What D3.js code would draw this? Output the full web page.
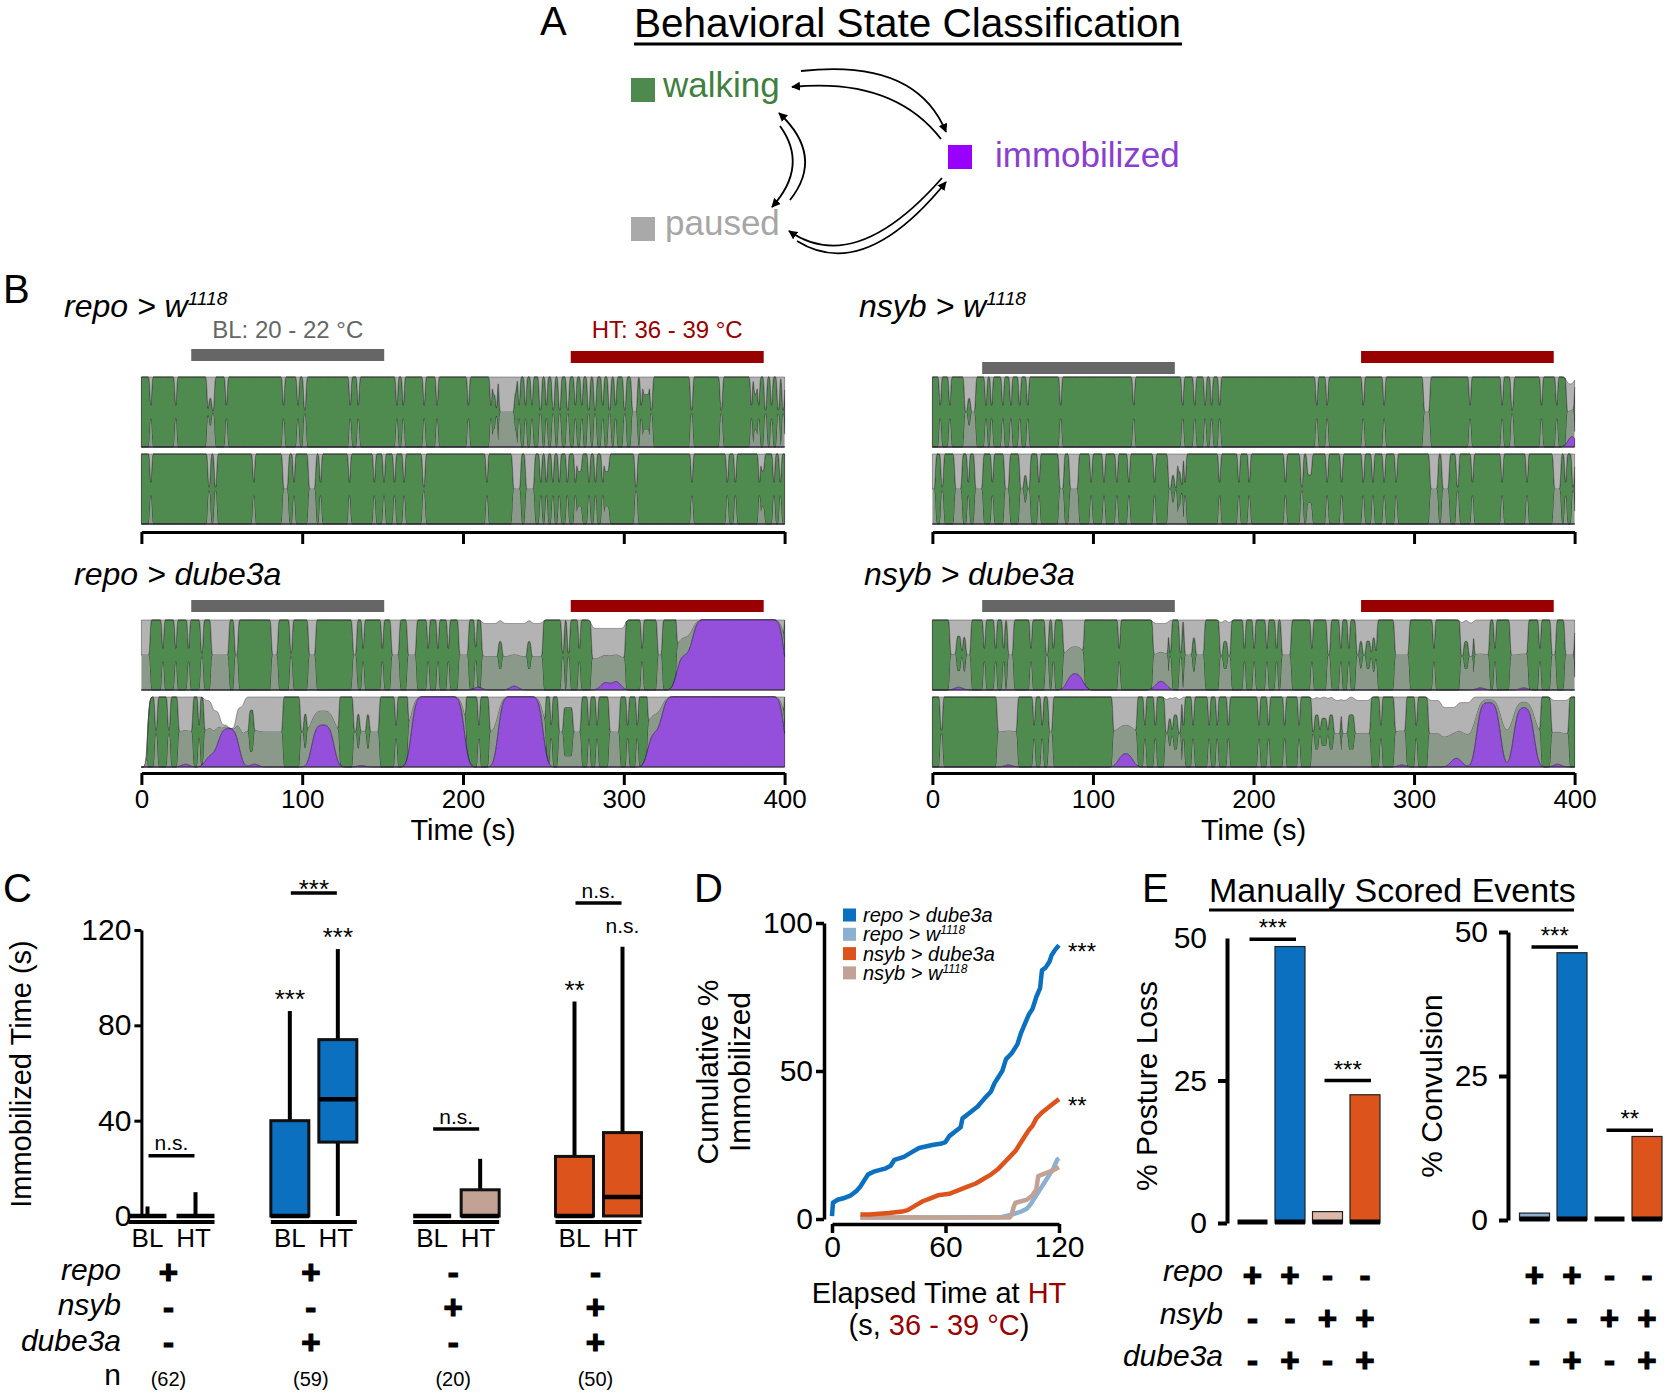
<!DOCTYPE html>
<html><head><meta charset="utf-8">
<script src="https://cdn.jsdelivr.net/npm/d3@7"></script>
<style>body{margin:0;background:#fff} svg{display:block} text{font-family:"Liberation Sans",Arial,Helvetica,sans-serif}</style>
</head><body>
<svg id="fig" width="1667" height="1393"></svg>
<script>
// ===================== DATA =====================
// Panel A
const stateNames = ["walking", "immobilized", "paused"];
const transitions = [["walking","immobilized"],["immobilized","walking"],["walking","paused"],["paused","walking"],["paused","immobilized"],["immobilized","paused"]];

// Panel B: time axis and temperature windows (s)
const timeTicks = [0, 100, 200, 300, 400];
const windowBL = {label: "BL: 20 - 22 °C", start: 31, end: 151};
const windowHT = {label: "HT: 36 - 39 °C", start: 267, end: 387};
const genotypes = ["repo > w|1118", "repo > dube3a", "nsyb > w|1118", "nsyb > dube3a"];

// ethogram events: <start s><state><duration s>[@percent]; default state = walking
// P = paused (@ = filled fraction), W = partial walking (@ = walking fraction), I = immobilized (@ = fraction)
const repoW_states1 = "5.5P1 21P1 41P1 42W2@40 44P1.5 52.5P1 88P1 97P1 101P1.5 129.5P1 134.5P1 158.5P1 162.5P1 175.5P1 183.5P1 203P1 217P1 218.5W2@50 220.5P1 222.5P9.5 232W1.5@55 234.5P1 238.5P1 242.5P1 247.5P1.5 251.5P1 255.5P1.5 259.5P1.5 264.5P1.5 269.5P1 273.5P1 277.5P1.5 281.5P1.5 286.5P1 290.5P1.5 294.5P1 300P1.5 305P3.5 310.5P1 312W4@50 316.5P1.5 341.5P1.5 360P1.5 379P1 381W2@50 383.5P1 387.5P1.5 391.5P1 395.5P1.5 398.5P1.5";
const repoW_immob1 = "";
const repoW_states2 = "5.5P1 41.5P1.5 45.5P1.5 69.5P1 88P3.5 94.5P1 104P4.5 111P1 129P1 144.5P1 150.5P1 157P1 163P1 175P1.5 214.5P1 231P5 239P5.5 248P1 251.5P1 255.5P1 259.5P1 264.5P1 269.5P1 271W3@50 278P1 282P1 286.5P1 288W3@50 307P1.5 342P1 364P1 369P1 384P1 385.5W2@50 393P1 397P1";
const repoW_immob2 = "";
const repoD_states1 = "0P5.4 13P1 21P1 29P1 37P1.5 43.5P11 58P2.3 81P4 92.5P1.5 104P4.5 131.5P2.5 137.5P1 149.5P1 155.5P5 165.5P5.5 178P1 184P1 190.5P1 197.5P6 207.5P1 211.7P38@95 222W2.5@40 240W2.5@40 261.5P1.5 265P1.5 272P1 280P21@88 311P1 321P3 333P67";
const repoD_immob1 = "208I3@8 230I4@9 286I5@14 293I5@16 333I10@50 343I57@100";
const repoD_states2 = "0P4@0 8.5P1.5 16.5P1.5 23P9 35.5P1 39P5@95 44P5@80 49P5@60 54P5@55 59P5@85 64P3 67W3@60 70P18 99P2 101W2@50 103P20 132P2 134W2@50 136P4 140W2@50 142P6 158P1 166P36 209.5P1 216.5P35 254.5P1 259.5P3 262.5W6@70 268.5P5 278P1 283P1 291P6.5 302P1 308P1 315P85";
const repoD_immob2 = "26I3@8 40I8@18 48I13@55 69I3@8 106I14@60 136I2@6 168I33@100 222I28@100 315I9@50 324I76@100";
const nsybW_states1 = "4.5P1 10.5P1 20P2 22W2@40 24P3 33P1 36.5P1 43.5P1 48.5P1 54P1 59P1 79.5P1 125P1 155.5P1 163P1 169.5P1 173.5P1 178.5P1 239P1 245.5P1 268P1 281P1 306P4 334.5P1 354.5P1 360.5P1.5 379P1 388.5P1 395P5@90";
const nsybW_immob1 = "397I3@30";
const nsybW_states2 = "0P2 5.5P1.5 14P4.5 22P1 26.5P5 37P1 45P3 54.5P2.5 57W2@40 59P2 66P1 79P3 85.5P5.5 98.5P1 106.5P1 114.5P1 122P1 138P1 147P2 149W2@40 151P1.5 153W2@50 155P1 157P1 178.5P1 190.5P1 197P1 219.5P1 229.5P1.5 233.5W3@40 245.5P1 254.5P1 268P1 274P1 281P1 288.5P1 310P5 317.5P4.5 326.5P1.5 336P1 354.5P1 370P1 387P4.5 394P1 398.5P1.5";
const nsybW_immob2 = "";
const nsybD_states1 = "11P13 15W3@50 19W2@50 32P1 39P1 44P1 47P3.5 61P1 70.5P2 75P1 81.5P13 116P1 137.5P9.5@95 147.5P1.5 154P1.5 157P11 162W2@50 168P1.5 179P7@95 181W3@40 194P1 200P1 208P1 214P1 217.5P6 236P1 246P2 254P1 259P1 264P13 266W2@40 270W3@40 274W2@50 288P9 312P1 329P8@95 331W3@40 337.5P9.5 350P1 360P11 378P1 385.6P3 394P6";
const nsybD_immob1 = "15I3@8 84I10@24 139I7@14 340I3@6 367I3@6";
const nsybD_states2 = "5P1.5 40.5P12.5 63P1 68P1 72.5P2.5 112.5P15 132P1 138.5P1 145P10@95 147W2@40 150W3@50 156P1 162P1 172P1 177P1 184P1 203P1 209P1 219P1 228P1 236.5P18@95 238W3@50 242W4@40 247W3@50 255P18@95 259W4@50 279P1 288P7 301P1 309P8@95 317P10@85 327P9@92 336P43 385.6P11@95";
const nsybD_immob2 = "46I3@6 116I9@20 291I3@6 323I7@14 339I15@92 362I13@85 388I3@8";

// Panel C: immobilized time (s) box plots, [min, q1, median, q3, max]
const boxGroups = ["repo>w1118", "repo>dube3a", "nsyb>w1118", "nsyb>dube3a"];
const boxBL = [[0,0,0,0,4],[0,0,0,40,86],[0,0,0,0,0],[0,0,0,25,90]];
const boxHT = [[0,0,0,0,10],[0,31,49,74,112],[0,0,0,11,24],[0,0,8,35,113]];
const yTicksC = [0, 40, 80, 120];
const sigGroupLabel = ["n.s.", "***", "n.s.", "n.s."];
const sigGroupLevel = [25.3, 135.5, 36.5, 131.3];
const sigBL = ["", "***", "", "**"];
const sigHT = ["", "***", "", "n.s."];
const nFlies = ["(62)", "(59)", "(20)", "(50)"];
const genoRows = ["repo", "nsyb", "dube3a"];
const genoSigns = {repo: ["+","+","-","-"], nsyb: ["-","-","+","+"], dube3a: ["-","+","-","+"]};

// Panel D: cumulative % immobilized vs elapsed time at HT (s)
const cumRepoDube = [[0,1],[0.5,5.5],[3,6.5],[6,7],[10,8],[13,9.5],[15,11],[17,13],[19,15],[22,16],[28,17],[31,18],[33,20],[38,21],[42,22.5],[46,24],[53,25],[58,25.5],[60,26],[62,28],[66,30],[68,31],[69,34],[73,36],[77,38],[81,41],[84,43],[86,46],[88,48],[90,50],[92,54],[95,56],[98,59],[100,63],[102,66],[104,69],[106,71],[108,75],[110,78],[111,84],[113,85],[115,87],[116,89],[118,91],[120,92.5]];
const cumRepoW = [[15,0.5],[60,0.5],[90,0.7],[95,1.5],[100,2.5],[103,3.5],[105,5],[107,7],[109,9],[111,11],[113,13],[115,15],[117,17],[119,20],[120,20.5]];
const cumNsybDube = [[15,1.5],[20,1.5],[30,2],[37,2.5],[40,3],[44,4.5],[48,6],[52,7],[56,8],[62,8.5],[66,9.5],[72,11],[76,12],[80,13.5],[84,15],[88,17],[91,19],[94,21],[97,23],[99,25],[101,27],[104,30],[106,31.5],[108,34],[111,36],[114,37.5],[117,39],[120,40.5]];
const cumNsybW = [[15,0.5],[94,0.5],[95,1.5],[96,4],[97,5.5],[103,6.5],[106,8],[108,10],[109,14.5],[113,15.5],[117,16.5],[120,17.5]];
const cumStars = {"repo > dube3a": "***", "nsyb > dube3a": "**"};
const xTicksD = [0, 60, 120];
const yTicksD = [0, 50, 100];

// Panel E: manually scored events (%)
const eGenos = ["repo>w1118", "repo>dube3a", "nsyb>w1118", "nsyb>dube3a"];
const postureLoss = [0, 48.5, 2, 22.5];
const convulsion = [1.2, 46.4, 0, 14.5];
const postureSig = [[0,1,"***",49.8],[2,3,"***",25]];
const convSig = [[0,1,"***",47.4],[2,3,"**",15.6]];
const yTicksE = [0, 25, 50];

// ===================== STYLE / LAYOUT =====================
const F = "'Liberation Sans', Arial, Helvetica, sans-serif";
const C_GREEN = "#4f8a4f", C_LGRAY = "#b3b3b3", C_DGRAY = "#8a998a", C_PURPLE = "#9450da";
const genoColor = {"repo>w1118":"#8db0d0","repo>dube3a":"#0a70bf","nsyb>w1118":"#c2a295","nsyb>dube3a":"#dc531b"};
const svg = d3.select("#fig");

function styleAxis(g, sw, fs) {
  g.select(".domain").attr("stroke", "#000").attr("stroke-width", sw);
  g.selectAll(".tick line").attr("stroke", "#000").attr("stroke-width", sw);
  g.selectAll(".tick text").attr("font-size", fs).attr("font-family", F).attr("fill", "#000");
}
function txt(x, y, s, size, opt) {
  opt = opt || {};
  const t = svg.append("text").attr("x", x).attr("y", y).attr("font-size", size)
    .attr("text-anchor", opt.anchor || "start").attr("fill", opt.fill || "#000").text(s);
  if (opt.italic) t.attr("font-style", "italic");
  if (opt.weight) t.attr("font-weight", opt.weight);
  return t;
}
function sign(x, y, s) {
  return txt(x, y, s, 33, {anchor: "middle", weight: "bold"}).attr("stroke", "#000").attr("stroke-width", 1.2);
}
function geneLabel(parent, x, y, label, size, anchor) {
  const parts = label.split("|");
  const t = parent.append("text").attr("x", x).attr("y", y).attr("font-size", size)
    .attr("font-style", "italic").attr("text-anchor", anchor || "start");
  t.append("tspan").text(parts[0]);
  if (parts[1]) t.append("tspan").attr("font-size", size * 0.6).attr("dy", -size * 0.36).text(parts[1]);
  return t;
}

// ===================== PANEL A =====================
txt(540, 35, "A", 40);
txt(634, 37, "Behavioral State Classification", 40.5);
svg.append("line").attr("x1", 634).attr("x2", 1182).attr("y1", 44).attr("y2", 44).attr("stroke", "#000").attr("stroke-width", 3);
const nodeA = {
  walking: {sx: 631, sy: 78, tx: 663, ty: 97, sq: "#4e8a4e", tc: "#3f803f"},
  immobilized: {sx: 948, sy: 145, tx: 995, ty: 167, sq: "#9900ff", tc: "#8a3fd0"},
  paused: {sx: 631, sy: 217, tx: 665, ty: 235, sq: "#a9a9a9", tc: "#a6a6a6"}
};
stateNames.forEach(s => {
  const n = nodeA[s];
  svg.append("rect").attr("x", n.sx).attr("y", n.sy).attr("width", 24).attr("height", 24).attr("fill", n.sq);
  txt(n.tx, n.ty, s, 35, {fill: n.tc});
});
svg.append("defs").append("marker").attr("id", "arr").attr("viewBox", "0 0 10 10").attr("refX", 9).attr("refY", 5)
  .attr("markerWidth", 9).attr("markerHeight", 9).attr("markerUnits", "userSpaceOnUse").attr("orient", "auto")
  .append("path").attr("d", "M0,0 L10,5 L0,10 z").attr("fill", "#000");
const arcGeom = {
  "walking>immobilized": [[801,71],[916,58],[946,132]],
  "immobilized>walking": [[941,139],[893,77],[792,87]],
  "paused>walking": [[790,200],[825,156],[779,113]],
  "walking>paused": [[780,126],[809,166],[772,207]],
  "immobilized>paused": [[942,178],[855,277],[789,231]],
  "paused>immobilized": [[797,241],[864,283],[946,182]]
};
transitions.forEach(([a, b]) => {
  const g = arcGeom[a + ">" + b];
  const p = d3.path(); p.moveTo(...g[0]); p.quadraticCurveTo(g[1][0], g[1][1], g[2][0], g[2][1]);
  svg.append("path").attr("d", p.toString()).attr("fill", "none").attr("stroke", "#000").attr("stroke-width", 1.8).attr("marker-end", "url(#arr)");
});

// ===================== PANEL B =====================
txt(3, 303, "B", 40);
function parseEv(str) {
  return str.trim().split(/\s+/).filter(Boolean).map(tok => {
    const m = tok.match(/^([\d.]+)([WPI])([\d.]+)(?:@([\d.]+))?$/);
    return {t: +m[1], s: m[2], d: +m[3], pct: m[4] !== undefined ? +m[4] / 100 : 1};
  });
}
function blur(arr, s) {
  const r = Math.ceil(s * 3), k = d3.range(-r, r + 1).map(j => Math.exp(-j * j / (2 * s * s))), ks = d3.sum(k);
  const n = arr.length, out = new Float64Array(n);
  for (let i = 0; i < n; i++) { let v = 0; for (let j = -r; j <= r; j++) v += arr[Math.min(n - 1, Math.max(0, i + j))] * k[j + r]; out[i] = v / ks; }
  return out;
}
function buildTrack(stStr, imStr) {
  const dt = 0.25, N = 1601;
  const walk = new Float64Array(N).fill(1), fill = new Float64Array(N).fill(1), imm = new Float64Array(N).fill(0);
  parseEv(stStr).forEach(e => {
    const a = Math.round(e.t / dt), b = Math.min(N, Math.round((e.t + e.d) / dt));
    for (let k = a; k < b; k++) { if (e.s === "P") { walk[k] = 0; fill[k] = e.pct; } else if (e.s === "W") { walk[k] = e.pct; fill[k] = 1; } }
  });
  parseEv(imStr).forEach(e => {
    const a = Math.round(e.t / dt), b = Math.min(N, Math.round((e.t + e.d) / dt));
    for (let k = a; k < b; k++) imm[k] = e.pct;
  });
  const ws = blur(walk, 1.5), fs = blur(fill, 4), is = blur(imm, 9);
  return d3.range(N).map(k => {
    const f = Math.min(1, fs[k]), i = Math.min(is[k], f), w = Math.max(0, Math.min(ws[k], f - i)), p = f - i - w;
    return {t: k * dt, a: 0, b: i, c: i + p / 2, d: i + p / 2 + w, e: f};
  });
}
const bGroups = [
  {label: genotypes[0], col: 0, row: 0, tx: 64, grayY: 349, redY: 351, tracks: [[repoW_states1, repoW_immob1], [repoW_states2, repoW_immob2]], showWin: true},
  {label: genotypes[1], col: 0, row: 1, tx: 74, grayY: 600, redY: 600, tracks: [[repoD_states1, repoD_immob1], [repoD_states2, repoD_immob2]]},
  {label: genotypes[2], col: 1, row: 0, tx: 859, grayY: 362, redY: 351, tracks: [[nsybW_states1, nsybW_immob1], [nsybW_states2, nsybW_immob2]]},
  {label: genotypes[3], col: 1, row: 1, tx: 864, grayY: 600, redY: 600, tracks: [[nsybD_states1, nsybD_immob1], [nsybD_states2, nsybD_immob2]]}
];
const bRows = [{titleY: 317, tops: [377, 454], axisY: 532, labels: false}, {titleY: 585, tops: [620, 697], axisY: 773, labels: true}];
const bCols = [[141.4, 784.6], [932.4, 1574.6]];
const TH = 70;
bGroups.forEach(g => {
  const row = bRows[g.row];
  const x = d3.scaleLinear().domain([0, 400]).range(bCols[g.col]);
  geneLabel(svg, g.tx, row.titleY, g.label, 32);
  svg.append("rect").attr("x", x(windowBL.start)).attr("width", x(windowBL.end) - x(windowBL.start)).attr("y", g.grayY).attr("height", 12).attr("fill", "#666");
  svg.append("rect").attr("x", x(windowHT.start)).attr("width", x(windowHT.end) - x(windowHT.start)).attr("y", g.redY).attr("height", 12).attr("fill", "#990000");
  if (g.showWin) {
    txt(x((windowBL.start + windowBL.end) / 2), 338, windowBL.label, 24, {anchor: "middle", fill: "#666"});
    txt(x((windowHT.start + windowHT.end) / 2), 338, windowHT.label, 24, {anchor: "middle", fill: "#990000"});
  }
  g.tracks.forEach((tr, ti) => {
    const data = buildTrack(tr[0], tr[1]);
    const top = row.tops[ti];
    const y = d3.scaleLinear().domain([0, 1]).range([top + TH, top]);
    const layers = [["c", "d", C_GREEN, "#1c1c1c", 0.7], ["d", "e", C_LGRAY, "#444", 0.5], ["b", "c", C_DGRAY, "none", 0], ["a", "b", C_PURPLE, "#2d1447", 0.7]];
    const gg = svg.append("g");
    layers.forEach(([lo, hi, fillc, sc, sw]) => {
      const ar = d3.area().x(d => x(d.t)).y0(d => y(d[lo])).y1(d => y(d[hi]));
      gg.append("path").attr("d", ar(data)).attr("fill", fillc).attr("stroke", sc).attr("stroke-width", sw);
    });
    gg.append("line").attr("x1", x(0)).attr("x2", x(400)).attr("y1", top + TH).attr("y2", top + TH).attr("stroke", "#333").attr("stroke-width", 1.2);
  });
  const ax = svg.append("g").attr("transform", `translate(0,${row.axisY})`)
    .call(d3.axisBottom(x).tickValues(timeTicks).tickSize(12).tickSizeOuter(0).tickPadding(5).tickFormat(row.labels ? d3.format("d") : () => ""));
  styleAxis(ax, 3, 26);
  if (row.labels) txt(x(200), 840, "Time (s)", 29, {anchor: "middle"});
});

// ===================== PANEL C =====================
txt(3, 902, "C", 40);
const yC = d3.scaleLinear().domain([0, 120]).range([1216, 930]);
const gxC = d3.scalePoint().domain(boxGroups).range([171.5, 598.5]);
const axC = svg.append("g").attr("transform", "translate(141.4,0)").call(d3.axisLeft(yC).tickValues(yTicksC).tickSize(7).tickSizeOuter(0).tickPadding(3));
styleAxis(axC, 3, 30);
svg.append("text").attr("transform", "translate(31,1074) rotate(-90)").attr("text-anchor", "middle").attr("font-size", 29).text("Immobilized Time (s)");
const BW = 38;
function drawBox(cx, v, color) {
  const [mn, q1, md, q3, mx] = v;
  if (mx > q3) svg.append("line").attr("x1", cx).attr("x2", cx).attr("y1", yC(q3)).attr("y2", yC(mx)).attr("stroke", "#000").attr("stroke-width", 4);
  if (mn < q1) svg.append("line").attr("x1", cx).attr("x2", cx).attr("y1", yC(q1)).attr("y2", yC(mn)).attr("stroke", "#000").attr("stroke-width", 4);
  if (q3 > q1) svg.append("rect").attr("x", cx - BW / 2).attr("width", BW).attr("y", yC(q3)).attr("height", yC(q1) - yC(q3)).attr("fill", color).attr("stroke", "#111").attr("stroke-width", 3);
  svg.append("line").attr("x1", cx - BW / 2).attr("x2", cx + BW / 2).attr("y1", yC(md)).attr("y2", yC(md)).attr("stroke", "#000").attr("stroke-width", 4.5);
}
function starText(cx, cy, s, size) {
  const isStar = s.indexOf("*") >= 0;
  txt(cx, cy + (isStar ? size * 0.62 : size * 0.27), s, size, {anchor: "middle"});
}
boxGroups.forEach((g, i) => {
  const cx = gxC(g), col = genoColor[g];
  drawBox(cx - 24, boxBL[i], col);
  drawBox(cx + 24, boxHT[i], col);
  svg.append("line").attr("x1", cx - 43).attr("x2", cx + 43).attr("y1", 1222).attr("y2", 1222).attr("stroke", "#000").attr("stroke-width", 4);
  txt(cx - 24, 1247, "BL", 26, {anchor: "middle"});
  txt(cx + 22, 1247, "HT", 26, {anchor: "middle"});
  const ly = yC(sigGroupLevel[i]);
  svg.append("line").attr("x1", cx - 23).attr("x2", cx + 23).attr("y1", ly).attr("y2", ly).attr("stroke", "#000").attr("stroke-width", 3.5);
  starText(cx, ly - 11, sigGroupLabel[i], sigGroupLabel[i].indexOf("*") >= 0 ? 26 : 21);
  if (sigBL[i]) starText(cx - 24, yC(boxBL[i][4] + 8), sigBL[i], sigBL[i].indexOf("*") >= 0 ? 26 : 21);
  if (sigHT[i]) starText(cx + 24, yC(boxHT[i][4] + 8), sigHT[i], sigHT[i].indexOf("*") >= 0 ? 26 : 21);
  genoRows.forEach((r, ri) => sign(cx - 3, [1284, 1319, 1354][ri], genoSigns[r][i]));
  txt(cx - 3, 1386, nFlies[i], 20, {anchor: "middle"});
});
genoRows.forEach((r, ri) => txt(121, [1280, 1315, 1351][ri], r, 30, {anchor: "end", italic: true}));
txt(121, 1385, "n", 30, {anchor: "end"});

// ===================== PANEL D =====================
txt(694, 902, "D", 40);
const xD = d3.scaleLinear().domain([0, 120]).range([832, 1059]);
const yD = d3.scaleLinear().domain([0, 100]).range([1219, 923]);
const axDy = svg.append("g").attr("transform", "translate(824,0)").call(d3.axisLeft(yD).tickValues(yTicksD).tickSize(8).tickSizeOuter(0).tickPadding(3));
styleAxis(axDy, 3.5, 30);
const axDx = svg.append("g").attr("transform", "translate(0,1224)").call(d3.axisBottom(xD).tickValues(xTicksD).tickSize(9).tickSizeOuter(0).tickPadding(3));
styleAxis(axDx, 3.5, 30);
const seriesD = [
  {name: "repo > dube3a", data: cumRepoDube, color: genoColor["repo>dube3a"]},
  {name: "repo > w|1118", data: cumRepoW, color: genoColor["repo>w1118"]},
  {name: "nsyb > dube3a", data: cumNsybDube, color: genoColor["nsyb>dube3a"]},
  {name: "nsyb > w|1118", data: cumNsybW, color: genoColor["nsyb>w1118"]}
];
const lineD = d3.line().x(d => xD(d[0])).y(d => yD(d[1]));
[1, 3, 2, 0].forEach(k => {
  const s = seriesD[k];
  svg.append("path").attr("d", lineD(s.data)).attr("fill", "none").attr("stroke", s.color).attr("stroke-width", 4.5).attr("stroke-linejoin", "round");
  const st = cumStars[s.name];
  if (st) { const last = s.data[s.data.length - 1]; txt(xD(last[0]) + 9, yD(last[1]) + 15, st, 24); }
});
seriesD.forEach((s, i) => {
  const cy = 915 + i * 19.3;
  svg.append("rect").attr("x", 843).attr("y", cy - 6.5).attr("width", 13).attr("height", 13).attr("fill", s.color);
  geneLabel(svg, 863, cy + 7, s.name, 20);
});
svg.append("text").attr("transform", "translate(718,1072) rotate(-90)").attr("text-anchor", "middle").attr("font-size", 30).text("Cumulative %");
svg.append("text").attr("transform", "translate(750,1072) rotate(-90)").attr("text-anchor", "middle").attr("font-size", 30).text("Immobilized");
const xl1 = svg.append("text").attr("x", 939).attr("y", 1303).attr("text-anchor", "middle").attr("font-size", 29);
xl1.append("tspan").text("Elapsed Time at ");
xl1.append("tspan").attr("fill", "#990000").text("HT");
const xl2 = svg.append("text").attr("x", 939).attr("y", 1335).attr("text-anchor", "middle").attr("font-size", 29);
xl2.append("tspan").text("(s, ");
xl2.append("tspan").attr("fill", "#990000").text("36 - 39 °C");
xl2.append("tspan").text(")");

// ===================== PANEL E =====================
txt(1142, 902, "E", 40);
txt(1209, 902, "Manually Scored Events", 34);
svg.append("line").attr("x1", 1209).attr("x2", 1574).attr("y1", 910).attr("y2", 910).attr("stroke", "#000").attr("stroke-width", 3);
const eCharts = [
  {vals: postureLoss, sig: postureSig, axisX: 1227, range: [1233.75, 1383.75], y0: 1223, y50: 938, label: "% Posture Loss", labX: 1157, top50Tick: false, rowLabels: true},
  {vals: convulsion, sig: convSig, axisX: 1508, range: [1515.75, 1665.75], y0: 1220, y50: 932, label: "% Convulsion", labX: 1442, top50Tick: true, rowLabels: false}
];
const eBarColor = {"repo>w1118":"#8db0d0","repo>dube3a":"#0a70bf","nsyb>w1118":"#dbb8a9","nsyb>dube3a":"#dc531b"};
eCharts.forEach(ch => {
  const y = d3.scaleLinear().domain([0, 50]).range([ch.y0, ch.y50]);
  const x = d3.scaleBand().domain(eGenos).range(ch.range).paddingInner(0.2).paddingOuter(0.1);
  const ax = svg.append("g").attr("transform", `translate(${ch.axisX},0)`).call(d3.axisLeft(y).tickValues(yTicksE).tickSize(9).tickSizeOuter(0).tickPadding(11));
  styleAxis(ax, 4, 30);
  if (!ch.top50Tick) ax.selectAll(".tick").filter(d => d === 50).select("line").remove();
  svg.append("text").attr("transform", `translate(${ch.labX},1086) rotate(-90)`).attr("text-anchor", "middle").attr("font-size", 30).text(ch.label);
  eGenos.forEach((g, i) => {
    const v = ch.vals[i];
    if (v > 0) svg.append("rect").attr("x", x(g)).attr("width", x.bandwidth()).attr("y", y(v)).attr("height", y(0) - y(v)).attr("fill", eBarColor[g]).attr("stroke", "#222").attr("stroke-width", 1.2);
    svg.append("line").attr("x1", x(g)).attr("x2", x(g) + x.bandwidth()).attr("y1", y(0) - 1).attr("y2", y(0) - 1).attr("stroke", "#000").attr("stroke-width", 5);
    genoRows.forEach((r, ri) => sign(x(g) + x.bandwidth() / 2, [1287, 1330, 1372][ri], genoSigns[r][i]));
  });
  ch.sig.forEach(([a, b, s, lev]) => {
    const x1 = x(eGenos[a]) + x.bandwidth() / 2 - 3, x2 = x(eGenos[b]) + x.bandwidth() / 2 + 6, ly = y(lev);
    svg.append("line").attr("x1", x1).attr("x2", x2).attr("y1", ly).attr("y2", ly).attr("stroke", "#000").attr("stroke-width", 3.5);
    txt((x1 + x2) / 2, ly - 3, s, 24, {anchor: "middle"});
  });
  if (ch.rowLabels) genoRows.forEach((r, ri) => txt(1223, [1281, 1324, 1366][ri], r, 30, {anchor: "end", italic: true}));
});
</script>
</body></html>
